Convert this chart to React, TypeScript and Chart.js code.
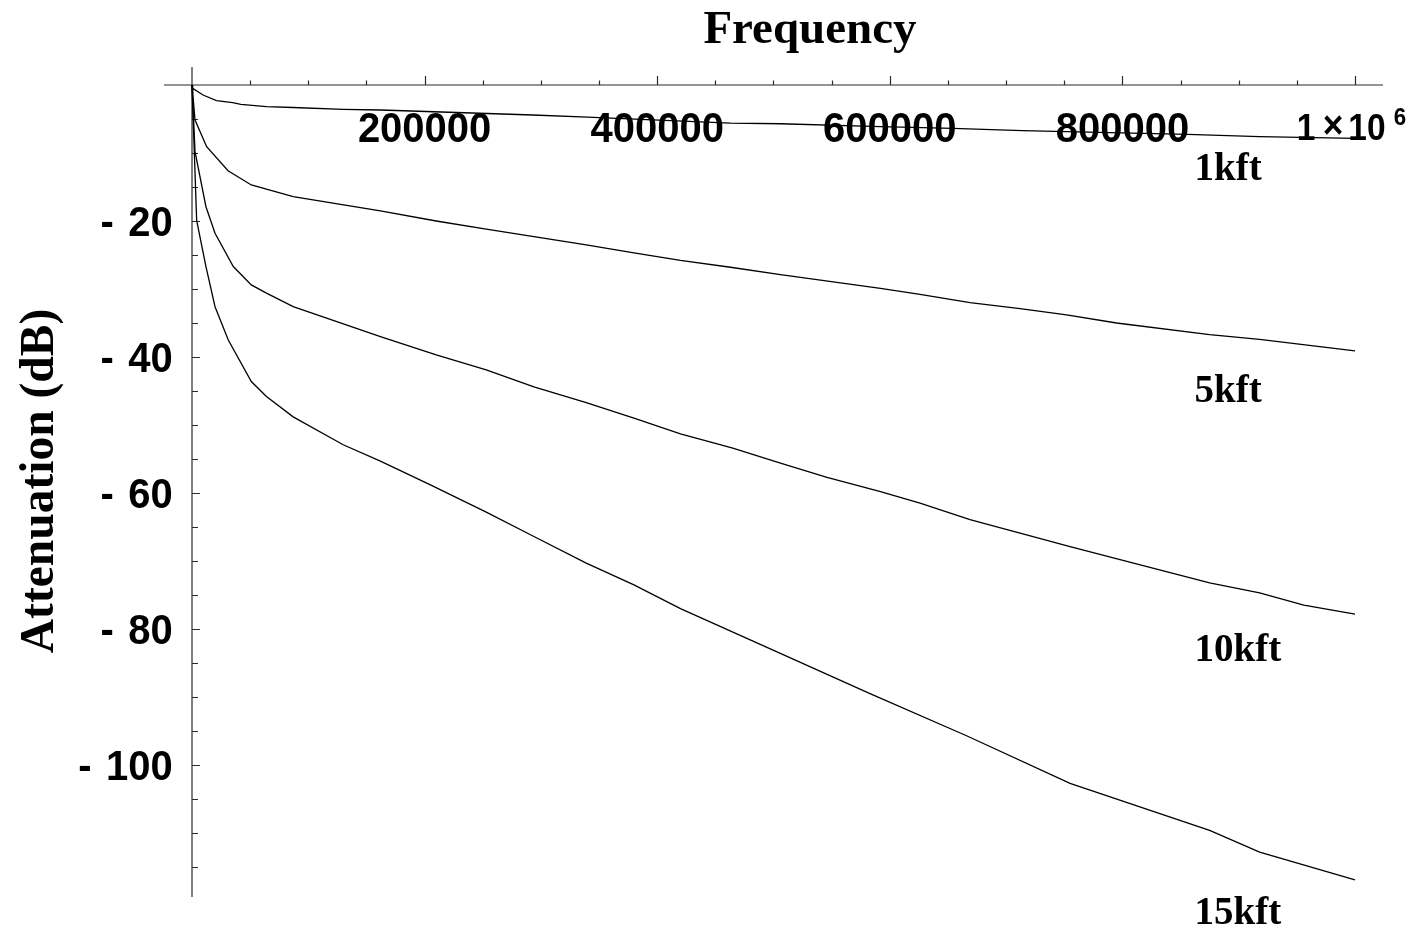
import { useEffect, useRef } from "react";
import { Chart, registerables } from "chart.js";

Chart.register(...registerables);

// Loop attenuation versus frequency for four loop lengths
const seriesNames = ["1kft", "5kft", "10kft", "15kft"];

const freq1k = [0, 600, 9500, 21000, 35000, 42000, 64000, 87000, 130000, 162000, 293000, 340000, 463000, 506000, 592000, 654000, 714000, 856000, 918000, 1000000];
const att1k = [0, -0.5, -1.47, -2.31, -2.6, -2.85, -3.19, -3.31, -3.57, -3.68, -4.41, -4.71, -5.6, -5.7, -6.13, -6.37, -6.72, -7.25, -7.6, -7.84];

const freq5k = [0, 2600, 12600, 31000, 51000, 87000, 162000, 210000, 253000, 294000, 339000, 380000, 420000, 463000, 506000, 592000, 626000, 669000, 712000, 752000, 795000, 875000, 918000, 1000000];
const att5k = [0, -5.15, -9.07, -12.6, -14.7, -16.4, -18.5, -20.0, -21.2, -22.3, -23.5, -24.7, -25.8, -26.8, -27.9, -29.9, -30.8, -32.0, -32.9, -33.8, -35.0, -36.7, -37.4, -39.1];

const freq10k = [0, 2600, 12000, 19800, 35500, 51000, 64000, 87000, 162000, 210000, 253000, 294000, 339000, 380000, 420000, 465000, 506000, 546000, 592000, 626000, 669000, 712000, 755000, 798000, 875000, 918000, 956000, 1000000];
const att10k = [0, -9.8, -17.9, -21.8, -26.7, -29.4, -30.6, -32.6, -37.0, -39.7, -41.9, -44.4, -46.7, -49.0, -51.3, -53.4, -55.6, -57.7, -59.8, -61.5, -63.9, -65.9, -67.9, -69.8, -73.2, -74.7, -76.5, -77.8];

const freq15k = [0, 4000, 12000, 19800, 31200, 51000, 64000, 87000, 130000, 162000, 205000, 253000, 294000, 339000, 380000, 420000, 480000, 583000, 666000, 755000, 875000, 918000, 1000000];
const att15k = [0, -19.9, -26.7, -32.6, -37.5, -43.6, -45.8, -48.8, -52.9, -55.3, -58.8, -62.8, -66.4, -70.3, -73.5, -77.0, -81.6, -89.5, -95.7, -102.7, -109.6, -112.8, -116.9];

// Axis ticks and labels
const xMajorTicks = [200000, 400000, 600000, 800000, 1000000];
const xTickLabels = ["200000", "400000", "600000", "800000", "1×10^6"];
const xMinorStep = 50000;
const yMajorTicks = [-20, -40, -60, -80, -100];
const yTickLabels = ["20", "40", "60", "80", "100"];
const yMinorStep = 5;

// Where each curve's name is written (frequency, dB of text baseline)
const nameAnchorFreq = 862000;
const nameAnchorAtt = [-13.97, -46.6, -84.7, -123.4];

const AXIS_COLOR = "#2a2a2a";
const SANS = "'Liberation Sans', Arial, Helvetica, sans-serif";
const SERIF = "'Liberation Serif', 'Times New Roman', Times, serif";

const mathAxes = {
  id: "mathAxes",
  beforeDatasetsDraw(chart: any) {
    const ctx: CanvasRenderingContext2D = chart.ctx;
    const xs = chart.scales.x;
    const ys = chart.scales.y;
    const area = chart.chartArea;
    const x0 = xs.getPixelForValue(0);
    const y0 = ys.getPixelForValue(0);

    ctx.save();
    ctx.strokeStyle = AXIS_COLOR;
    ctx.lineWidth = 1.2;
    ctx.beginPath();
    ctx.moveTo(area.left, y0);
    ctx.lineTo(area.right, y0);
    ctx.moveTo(x0, area.top);
    ctx.lineTo(x0, area.bottom);
    ctx.stroke();

    // frequency ticks point upward from the axis
    ctx.beginPath();
    for (let v = xMinorStep; v <= xs.max; v += xMinorStep) {
      const major = xMajorTicks.includes(v);
      const px = Math.round(xs.getPixelForValue(v)) + 0.5;
      ctx.moveTo(px, y0);
      ctx.lineTo(px, y0 - (major ? 9 : 4.5));
    }
    // attenuation ticks point right from the axis
    for (let v = -yMinorStep; v >= ys.min; v -= yMinorStep) {
      const major = yMajorTicks.includes(v);
      const py = Math.round(ys.getPixelForValue(v)) + 0.5;
      ctx.moveTo(x0, py);
      ctx.lineTo(x0 + (major ? 8 : 6), py);
    }
    ctx.stroke();

    ctx.fillStyle = "#000";
    const squeeze = 0.93;

    // frequency tick labels
    xMajorTicks.forEach((v, i) => {
      const px = xs.getPixelForValue(v);
      const label = xTickLabels[i];
      if (label.includes("^")) {
        const [mant, exp] = label.split("^");
        const [one, ten] = mant.split("×");
        ctx.textAlign = "center";
        ctx.textBaseline = "alphabetic";
        const base = y0 + 55;
        const piece = (t: string, cx: number, cy: number, size: number) => {
          ctx.save();
          ctx.translate(cx, cy);
          ctx.scale(squeeze, 1);
          ctx.font = `bold ${size}px ${SANS}`;
          ctx.fillText(t, 0, 0);
          ctx.restore();
        };
        piece(one, px - 49, base, 36);
        piece("×", px - 22, base - 2, 38);
        piece(ten, px + 12, base, 36);
        piece(exp, px + 45, y0 + 40, 24);
      } else {
        ctx.save();
        ctx.translate(px, y0 + 56.7);
        ctx.scale(squeeze, 1);
        ctx.font = `bold 43px ${SANS}`;
        ctx.textAlign = "center";
        ctx.textBaseline = "alphabetic";
        ctx.fillText(label, 0, 0);
        ctx.restore();
      }
    });

    // attenuation tick labels: "- 20" style
    yMajorTicks.forEach((v, i) => {
      const py = ys.getPixelForValue(v);
      const right = x0 - 19.3;
      const base = py + 14.5;
      ctx.font = `bold 43px ${SANS}`;
      const w = ctx.measureText(yTickLabels[i]).width * squeeze;
      ctx.save();
      ctx.translate(right, base);
      ctx.scale(squeeze, 1);
      ctx.textAlign = "right";
      ctx.textBaseline = "alphabetic";
      ctx.fillText(yTickLabels[i], 0, 0);
      ctx.restore();
      ctx.save();
      ctx.translate(right - w - 21, base);
      ctx.scale(squeeze, 1);
      ctx.textAlign = "center";
      ctx.fillText("-", 0, 0);
      ctx.restore();
    });

    // titles
    ctx.font = `bold 47px ${SERIF}`;
    ctx.textAlign = "center";
    ctx.textBaseline = "alphabetic";
    ctx.fillText("Frequency", 810, 43);

    ctx.save();
    ctx.translate(53, 481);
    ctx.rotate(-Math.PI / 2);
    ctx.font = `bold 47.5px ${SERIF}`;
    ctx.fillText("Attenuation (dB)", 0, 0);
    ctx.restore();

    // curve names
    ctx.font = `bold 39px ${SERIF}`;
    ctx.textAlign = "left";
    seriesNames.forEach((name, i) => {
      const px = xs.getPixelForValue(nameAnchorFreq);
      const py = ys.getPixelForValue(nameAnchorAtt[i]);
      ctx.fillText(name, px, py);
    });

    ctx.restore();
  },
};

const toPoints = (f: number[], a: number[]) => f.map((x, i) => ({ x, y: a[i] }));

export default function App() {
  const canvasRef = useRef<HTMLCanvasElement | null>(null);

  useEffect(() => {
    if (!canvasRef.current) return;
    const series = [
      toPoints(freq1k, att1k),
      toPoints(freq5k, att5k),
      toPoints(freq10k, att10k),
      toPoints(freq15k, att15k),
    ];
    const chart = new Chart(canvasRef.current, {
      type: "line",
      data: {
        datasets: series.map((data, i) => ({
          label: seriesNames[i],
          data,
          borderColor: "#000",
          borderWidth: 1.3,
          pointRadius: 0,
          fill: false,
          tension: 0,
        })),
      },
      options: {
        animation: false,
        responsive: true,
        maintainAspectRatio: false,
        layout: { padding: { left: 164, right: 37, top: 67, bottom: 36 } },
        plugins: {
          legend: { display: false },
          title: { display: false },
          tooltip: { enabled: false },
        },
        scales: {
          x: { type: "linear", min: -24076, max: 1024081, display: false },
          y: { type: "linear", min: -119.41, max: 2.647, display: false },
        },
      },
      plugins: [mathAxes],
    });
    return () => chart.destroy();
  }, []);

  return (
    <div style={{ position: "absolute", left: 0, top: 0, width: 1420, height: 933, background: "#fff" }}>
      <canvas ref={canvasRef} />
    </div>
  );
}
